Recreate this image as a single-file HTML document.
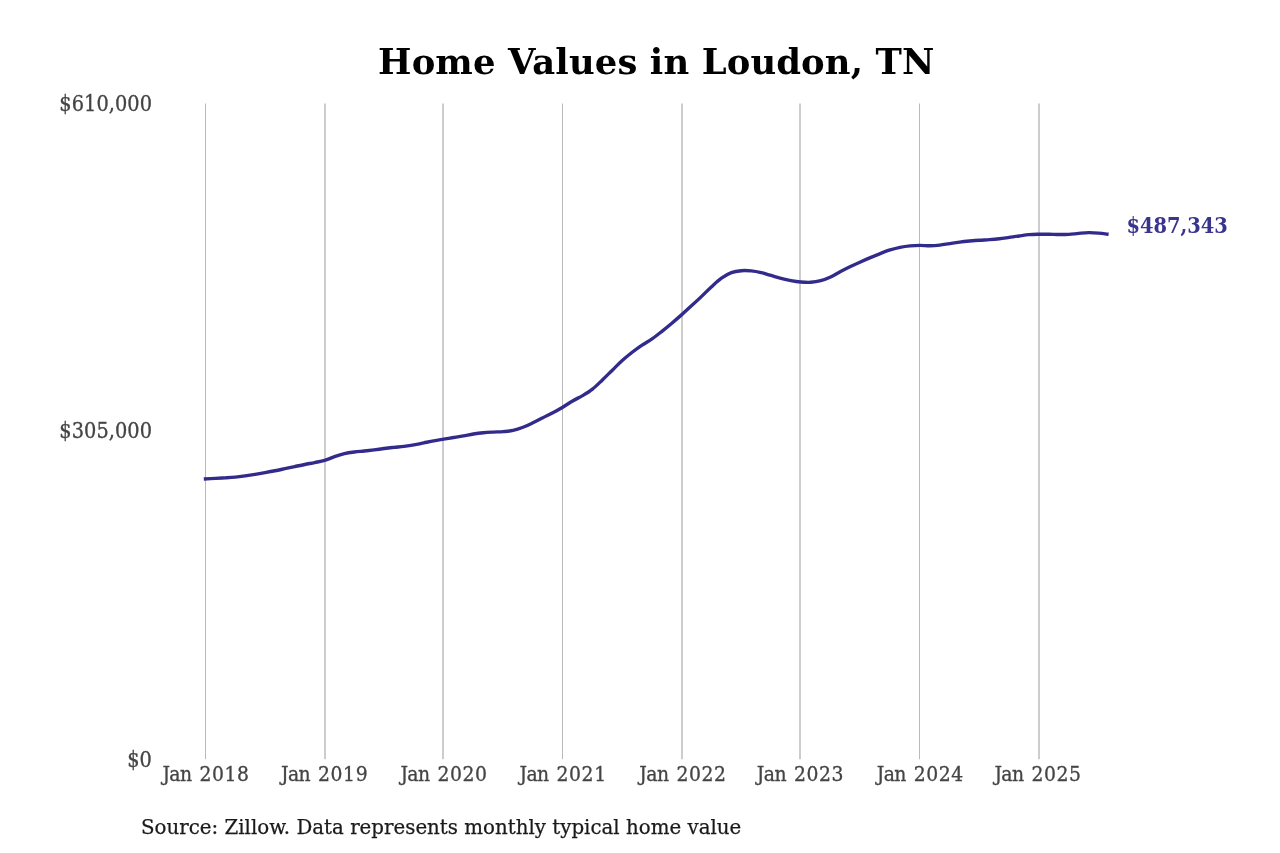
<!DOCTYPE html>
<html><head><meta charset="utf-8"><title>Home Values in Loudon, TN</title>
<style>
html,body{margin:0;padding:0;background:#fff;}
body{width:1280px;height:853px;overflow:hidden;font-family:"DejaVu Serif","Liberation Serif",serif;}
svg{display:block;position:absolute;left:0;top:0;}
svg text{font-family:"DejaVu Serif","Liberation Serif",serif;}
.title{font-size:35.4px;font-weight:bold;fill:#000;}
.xl text{font-family:"DejaVu Serif Condensed","DejaVu Serif","Liberation Serif",serif;font-size:20.9px;fill:#444;stroke:#444;stroke-width:0.3px;}
.yl text{font-family:"DejaVu Serif Condensed","DejaVu Serif","Liberation Serif",serif;font-size:21.5px;fill:#444;stroke:#444;stroke-width:0.3px;text-anchor:end;}
.src{font-size:20.3px;fill:#1a1a1a;stroke:#1a1a1a;stroke-width:0.25px;}
.val{font-family:"DejaVu Serif Condensed","DejaVu Serif","Liberation Serif",serif;font-size:21.6px;font-weight:bold;fill:#39348d;}
.line{fill:none;stroke:#322b8c;stroke-width:3.4;stroke-linejoin:round;stroke-linecap:butt;}
</style></head>
<body>
<svg width="1280" height="853" viewBox="0 0 1280 853">
<rect width="1280" height="853" fill="#ffffff"/>
<text class="title" x="378.1" y="74.05" textLength="556.2" lengthAdjust="spacing">Home Values in Loudon, TN</text>
<g class="grid"><rect x="205.0" y="103.5" width="1" height="655.7" fill="#b9b9b9"/><rect x="324.0" y="103.5" width="2" height="655.7" fill="#cdcdcd"/><rect x="442.0" y="103.5" width="2" height="655.7" fill="#cdcdcd"/><rect x="562.0" y="103.5" width="1" height="655.7" fill="#b9b9b9"/><rect x="681.0" y="103.5" width="2" height="655.7" fill="#cdcdcd"/><rect x="799.0" y="103.5" width="2" height="655.7" fill="#cdcdcd"/><rect x="919.0" y="103.5" width="1" height="655.7" fill="#b9b9b9"/><rect x="1038.0" y="103.5" width="2" height="655.7" fill="#cdcdcd"/></g>
<g class="yl">
<text x="152" y="111" textLength="92.7" lengthAdjust="spacing">$610,000</text>
<text x="152" y="437.8" textLength="92.7" lengthAdjust="spacing">$305,000</text>
<text x="151.8" y="767.4">$0</text>
</g>
<g class="xl"><text y="781.45"><tspan x="162.40" textLength="29.7" lengthAdjust="spacing">Jan</tspan><tspan x="199.50" textLength="49.5" lengthAdjust="spacing">2018</tspan></text><text y="781.45"><tspan x="281.00" textLength="29.7" lengthAdjust="spacing">Jan</tspan><tspan x="318.10" textLength="49.5" lengthAdjust="spacing">2019</tspan></text><text y="781.45"><tspan x="400.40" textLength="29.7" lengthAdjust="spacing">Jan</tspan><tspan x="437.50" textLength="49.5" lengthAdjust="spacing">2020</tspan></text><text y="781.45"><tspan x="519.50" textLength="29.7" lengthAdjust="spacing">Jan</tspan><tspan x="556.60" textLength="49.5" lengthAdjust="spacing">2021</tspan></text><text y="781.45"><tspan x="639.30" textLength="29.7" lengthAdjust="spacing">Jan</tspan><tspan x="676.40" textLength="49.5" lengthAdjust="spacing">2022</tspan></text><text y="781.45"><tspan x="756.80" textLength="29.7" lengthAdjust="spacing">Jan</tspan><tspan x="793.90" textLength="49.5" lengthAdjust="spacing">2023</tspan></text><text y="781.45"><tspan x="876.70" textLength="29.7" lengthAdjust="spacing">Jan</tspan><tspan x="913.80" textLength="49.5" lengthAdjust="spacing">2024</tspan></text><text y="781.45"><tspan x="994.40" textLength="29.7" lengthAdjust="spacing">Jan</tspan><tspan x="1031.50" textLength="49.5" lengthAdjust="spacing">2025</tspan></text></g>
<path class="line" d="M203.80,478.97 C205.74,478.87 211.83,478.54 215.42,478.35 C219.01,478.16 222.04,478.04 225.35,477.84 C228.65,477.65 231.96,477.48 235.27,477.16 C238.58,476.83 241.88,476.37 245.19,475.91 C248.50,475.46 251.81,474.96 255.11,474.42 C258.42,473.87 261.73,473.26 265.04,472.64 C268.34,472.03 271.65,471.41 274.96,470.74 C278.27,470.08 281.57,469.36 284.88,468.66 C288.19,467.96 291.50,467.24 294.80,466.54 C298.11,465.84 301.42,465.12 304.73,464.46 C308.03,463.79 311.34,463.22 314.65,462.55 C317.96,461.87 321.26,461.40 324.57,460.42 C327.88,459.44 331.19,457.78 334.49,456.66 C337.80,455.54 341.11,454.47 344.42,453.70 C347.72,452.93 351.03,452.49 354.34,452.05 C357.65,451.60 360.95,451.40 364.26,451.04 C367.57,450.68 370.88,450.30 374.18,449.89 C377.49,449.47 380.80,448.96 384.11,448.54 C387.41,448.12 390.72,447.74 394.03,447.37 C397.34,447.01 400.64,446.76 403.95,446.35 C407.26,445.93 410.57,445.47 413.88,444.89 C417.18,444.31 420.49,443.54 423.80,442.86 C427.11,442.18 430.41,441.45 433.72,440.84 C437.03,440.22 440.34,439.72 443.64,439.17 C446.95,438.62 450.26,438.10 453.57,437.55 C456.87,437.00 460.18,436.47 463.49,435.88 C466.80,435.29 470.10,434.53 473.41,434.01 C476.72,433.50 480.03,433.09 483.33,432.77 C486.64,432.45 489.95,432.28 493.26,432.09 C496.56,431.89 499.87,431.86 503.18,431.59 C506.49,431.31 509.79,431.16 513.10,430.44 C516.41,429.72 519.72,428.57 523.02,427.29 C526.33,426.01 529.64,424.35 532.95,422.75 C536.25,421.15 539.56,419.35 542.87,417.68 C546.18,416.01 549.48,414.50 552.79,412.75 C556.10,411.00 559.41,409.14 562.71,407.17 C566.02,405.20 569.33,402.85 572.64,400.93 C575.94,399.00 579.25,397.59 582.56,395.62 C585.87,393.64 589.17,391.70 592.48,389.08 C595.79,386.47 599.10,383.08 602.40,379.93 C605.71,376.79 609.02,373.42 612.33,370.19 C615.63,366.97 618.94,363.58 622.25,360.59 C625.56,357.60 628.87,354.83 632.17,352.25 C635.48,349.67 638.79,347.33 642.10,345.10 C645.40,342.87 648.71,341.16 652.02,338.86 C655.33,336.56 658.63,333.91 661.94,331.30 C665.25,328.69 668.56,325.97 671.86,323.19 C675.17,320.42 678.48,317.57 681.79,314.64 C685.09,311.70 688.40,308.65 691.71,305.60 C695.02,302.56 698.32,299.51 701.63,296.36 C704.94,293.21 708.25,289.76 711.55,286.71 C714.86,283.67 718.17,280.46 721.48,278.10 C724.78,275.74 728.09,273.79 731.40,272.56 C734.71,271.33 738.01,270.97 741.32,270.70 C744.63,270.42 747.94,270.59 751.24,270.91 C754.55,271.23 757.86,271.86 761.17,272.62 C764.47,273.37 767.78,274.51 771.09,275.47 C774.40,276.42 777.70,277.50 781.01,278.35 C784.32,279.19 787.63,279.95 790.93,280.55 C794.24,281.16 797.55,281.67 800.86,281.96 C804.16,282.24 807.47,282.48 810.78,282.26 C814.09,282.04 817.39,281.53 820.70,280.64 C824.01,279.76 827.32,278.48 830.62,276.96 C833.93,275.44 837.24,273.28 840.55,271.54 C843.86,269.80 847.16,268.14 850.47,266.54 C853.78,264.94 857.09,263.44 860.39,261.95 C863.70,260.47 867.01,259.03 870.32,257.63 C873.62,256.23 876.93,254.84 880.24,253.56 C883.55,252.28 886.85,250.99 890.16,249.95 C893.47,248.92 896.78,248.03 900.08,247.35 C903.39,246.67 906.70,246.20 910.01,245.88 C913.31,245.55 916.62,245.41 919.93,245.40 C923.24,245.39 926.54,245.86 929.85,245.82 C933.16,245.77 936.47,245.50 939.77,245.12 C943.08,244.75 946.39,244.06 949.70,243.57 C953.00,243.07 956.31,242.55 959.62,242.14 C962.93,241.72 966.23,241.38 969.54,241.06 C972.85,240.73 976.16,240.42 979.46,240.19 C982.77,239.96 986.08,239.90 989.39,239.66 C992.69,239.42 996.00,239.14 999.31,238.76 C1002.62,238.37 1005.92,237.84 1009.23,237.37 C1012.54,236.90 1015.85,236.39 1019.15,235.95 C1022.46,235.50 1025.77,234.96 1029.08,234.68 C1032.38,234.40 1035.69,234.36 1039.00,234.28 C1042.31,234.20 1045.62,234.17 1048.92,234.22 C1052.23,234.27 1055.54,234.54 1058.85,234.56 C1062.15,234.59 1065.46,234.58 1068.77,234.38 C1072.08,234.18 1075.38,233.66 1078.69,233.37 C1082.00,233.09 1085.31,232.71 1088.61,232.67 C1091.92,232.63 1095.20,232.85 1098.54,233.13 C1101.87,233.40 1106.92,234.11 1108.60,234.31"/>
<text class="val" x="1126.5" y="232.9">$487,343</text>
<text class="src" x="141" y="834.2" textLength="600.3" lengthAdjust="spacingAndGlyphs">Source: Zillow. Data represents monthly typical home value</text>
</svg>
</body></html>
